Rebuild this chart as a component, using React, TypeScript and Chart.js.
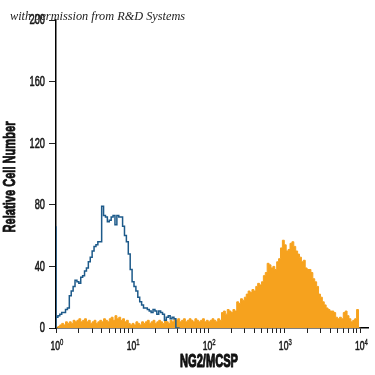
import React, { useEffect, useRef } from "react";
import { Chart, registerables } from "chart.js";

Chart.register(...registerables);

// Histogram bins: each bin spans BIN_DECADES on the log10 axis, starting at 10^0
const BIN_DECADES = 0.025;

// Isotype control (blue outline)
const controlCounts = [
  66, 7, 8, 9, 10, 10, 12, 13, 21, 24, 27, 31, 30, 29, 33, 34, 37, 39, 43, 46,
  50, 53, 54, 56, 56, 79, 73, 72, 69, 70, 72, 73, 67, 73, 72, 72, 66, 60, 56, 48,
  38, 30, 27, 24, 20, 17, 15, 13, 13, 12, 11, 10, 12, 11, 9, 11, 10, 9, 5, 7,
  8, 6, 7, 6, 0,
];

// NG2/MCSP stained cells (orange fill)
const stainedCounts = [
  0, 0, 1, 2, 3, 2, 4, 3, 4, 3, 5, 4, 5, 6, 4, 5, 6, 4, 5, 3,
  4, 5, 3, 4, 5, 4, 6, 5, 4, 6, 7, 5, 8, 6, 7, 5, 6, 4, 5, 3,
  2, 3, 2, 4, 3, 2, 4, 3, 4, 5, 3, 4, 5, 3, 4, 5, 4, 3, 5, 4,
  3, 5, 4, 6, 5, 6, 4, 5, 6, 4, 5, 6, 5, 4, 6, 5, 4, 5, 6, 4,
  5, 4, 5, 6, 5, 4, 6, 5, 10, 11, 9, 12, 11, 10, 12, 11, 17, 16, 19, 18,
  20, 22, 24, 23, 25, 24, 27, 29, 28, 30, 34, 36, 42, 41, 39, 40, 38, 43, 45, 52,
  57, 54, 50, 51, 55, 56, 53, 50, 48, 46, 43, 44, 39, 38, 38, 36, 32, 30, 27, 22,
  20, 17, 15, 13, 12, 11, 11, 10, 7, 6, 7, 6, 10, 11, 8, 6, 4, 5, 6, 12,
];

const yTicks = [0, 40, 80, 120, 160, 200];
const xDecades = [0, 1, 2, 3, 4];

const xTitle = "NG2/MCSP";
const yTitle = "Relative Cell Number";
const watermark = "with permission from R&D Systems";

const FAMILY = "'Liberation Sans', Arial, sans-serif";
const NARROW = 0.66; // horizontal squeeze to imitate a condensed face

function toPoints(counts: number[]) {
  const pts = counts.map((c, i) => ({ x: Math.pow(10, i * BIN_DECADES), y: c }));
  pts.push({ x: Math.pow(10, counts.length * BIN_DECADES), y: 0 });
  return pts;
}

function squeezedText(
  ctx: CanvasRenderingContext2D,
  text: string,
  x: number,
  y: number,
  font: string,
  align: CanvasTextAlign,
  baseline: CanvasTextBaseline,
  sx: number,
  weight: number,
  rotate = false
) {
  ctx.save();
  ctx.translate(x, y);
  if (rotate) ctx.rotate(-Math.PI / 2);
  ctx.scale(sx, 1);
  ctx.font = font;
  ctx.textAlign = align;
  ctx.textBaseline = baseline;
  ctx.fillText(text, 0, 0);
  if (weight > 0) {
    ctx.lineWidth = weight;
    ctx.lineJoin = "round";
    ctx.strokeStyle = ctx.fillStyle as string;
    ctx.strokeText(text, 0, 0);
  }
  ctx.restore();
}

const labelsPlugin = {
  id: "condensedLabels",
  afterDraw(chart: any) {
    const ctx: CanvasRenderingContext2D = chart.ctx;
    const xs = chart.scales.x;
    const ys = chart.scales.y;
    const area = chart.chartArea;
    ctx.save();
    ctx.fillStyle = "#1a1a1a";

    // y tick labels
    for (const v of yTicks) {
      const py = ys.getPixelForValue(v);
      squeezedText(ctx, String(v), area.left - 11, py + 0.5, `14px ${FAMILY}`, "right", "middle", NARROW, 0.6);
    }

    // x tick labels: 10 with superscript exponent
    for (const d of xDecades) {
      const px = xs.getPixelForValue(Math.pow(10, d));
      const baseFont = `13px ${FAMILY}`;
      const supFont = `9px ${FAMILY}`;
      ctx.font = baseFont;
      const w1 = ctx.measureText("10").width * NARROW;
      ctx.font = supFont;
      const w2 = ctx.measureText(String(d)).width * NARROW;
      const start = px - (w1 + w2) / 2 + 1;
      const base = area.bottom + 22;
      squeezedText(ctx, "10", start, base, baseFont, "left", "alphabetic", NARROW, 0.6);
      squeezedText(ctx, String(d), start + w1, base - 5, supFont, "left", "alphabetic", NARROW, 0.4);
    }

    // axis titles
    ctx.fillStyle = "#111";
    const yFont = `bold 17px ${FAMILY}`;
    ctx.font = yFont;
    const yW = ctx.measureText(yTitle).width;
    squeezedText(ctx, yTitle, 10, (area.top + area.bottom) / 2 + 3, yFont, "center", "middle", 111 / yW, 0.9, true);

    const xFont = `bold 19px ${FAMILY}`;
    ctx.font = xFont;
    const xW = ctx.measureText(xTitle).width;
    squeezedText(ctx, xTitle, (area.left + area.right) / 2 - 3, area.bottom + 39, xFont, "center", "alphabetic", 58 / xW, 1.1);

    ctx.restore();
  },
};

export default function App() {
  const ref = useRef<HTMLCanvasElement | null>(null);

  useEffect(() => {
    if (!ref.current) return;
    const tickValues: number[] = [];
    for (let k = 0; k < xDecades.length - 1; k++) {
      for (let m = 1; m <= 9; m++) tickValues.push(m * Math.pow(10, xDecades[k]));
    }
    tickValues.push(Math.pow(10, xDecades[xDecades.length - 1]));

    const controlPts = [{ x: 1, y: 0 }, ...toPoints(controlCounts)];
    const stainedPts = toPoints(stainedCounts);

    const chart = new Chart(ref.current, {
      type: "line",
      data: {
        datasets: [
          {
            data: controlPts,
            borderColor: "#1d5a8a",
            borderWidth: 1.5,
            pointRadius: 0,
            fill: false,
            stepped: "after",
          },
          {
            data: stainedPts,
            borderColor: "#f6a21e",
            backgroundColor: "#f6a21e",
            borderWidth: 1,
            pointRadius: 0,
            fill: "origin",
            stepped: "after",
          },
        ],
      },
      options: {
        responsive: false,
        animation: false,
        layout: { padding: { top: 20, right: 7, left: 0, bottom: 0 } },
        plugins: { legend: { display: false }, tooltip: { enabled: false } },
        scales: {
          x: {
            type: "logarithmic",
            min: 1,
            max: Math.pow(10, 4.1),
            afterFit: (s: any) => {
              s.height = 47;
            },
            afterBuildTicks: (s: any) => {
              s.ticks = tickValues.map((v) => ({ value: v }));
            },
            border: { display: true, color: "#000", width: 1.5 },
            grid: {
              display: true,
              drawOnChartArea: false,
              drawTicks: true,
              tickLength: 5,
              color: "#222",
              lineWidth: 1,
            },
            ticks: { display: false, autoSkip: false },
            title: { display: false },
          },
          y: {
            min: 0,
            max: 200,
            afterFit: (s: any) => {
              s.width = 56;
            },
            afterBuildTicks: (s: any) => {
              s.ticks = yTicks.map((v) => ({ value: v }));
            },
            border: { display: true, color: "#000", width: 1.5 },
            grid: {
              display: true,
              drawOnChartArea: false,
              drawTicks: true,
              tickLength: 7,
              color: "#222",
              lineWidth: 1,
            },
            ticks: { display: false },
            title: { display: false },
          },
        },
      },
      plugins: [labelsPlugin],
    });
    return () => chart.destroy();
  }, []);

  return (
    <div style={{ position: "absolute", left: 0, top: 0, width: 375, height: 375, background: "#fff" }}>
      <canvas ref={ref} width={375} height={375} style={{ display: "block" }} />
      <div
        style={{
          position: "absolute",
          left: 10,
          top: 8,
          fontFamily: "'Liberation Serif', 'DejaVu Serif', serif",
          fontStyle: "italic",
          fontSize: 12.3,
          color: "#222",
          whiteSpace: "nowrap",
          lineHeight: "16px",
        }}
      >
        {watermark}
      </div>
    </div>
  );
}
